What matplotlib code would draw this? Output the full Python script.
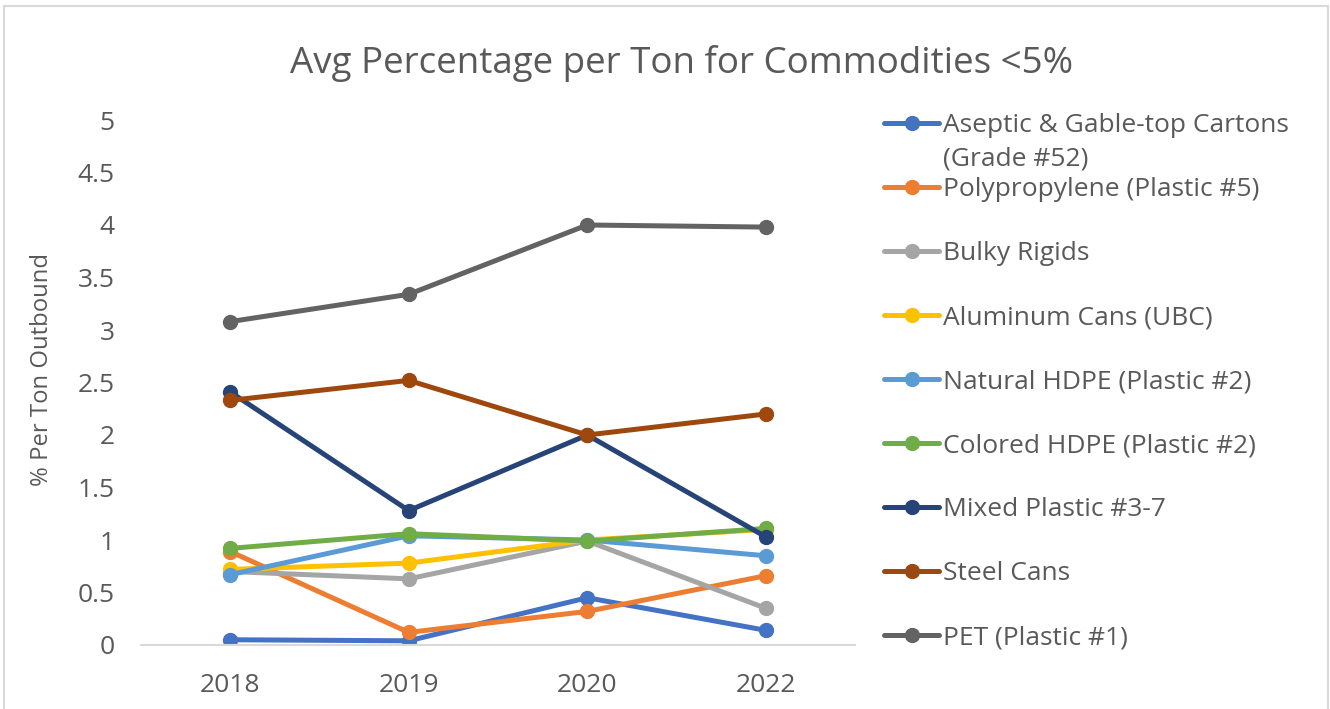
import matplotlib
matplotlib.use("Agg")
import matplotlib.pyplot as plt
from matplotlib.patches import Rectangle

plt.rcParams['font.family'] = ['Open Sans', 'DejaVu Sans']

years = ['2018', '2019', '2020', '2022']

series_names = [
    'Aseptic & Gable-top Cartons',
    'Polypropylene (Plastic #5)',
    'Bulky Rigids',
    'Aluminum Cans (UBC)',
    'Natural HDPE (Plastic #2)',
    'Colored HDPE (Plastic #2)',
    'Mixed Plastic #3-7',
    'Steel Cans',
    'PET (Plastic #1)',
]
aseptic = [0.05, 0.04, 0.45, 0.14]
polypropylene = [0.89, 0.12, 0.32, 0.66]
bulky = [0.70, 0.63, 0.99, 0.35]
aluminum = [0.72, 0.78, 1.00, 1.10]
natural_hdpe = [0.67, 1.04, 1.00, 0.85]
colored_hdpe = [0.92, 1.06, 0.99, 1.11]
mixed = [2.41, 1.28, 2.00, 1.03]
steel = [2.33, 2.52, 2.00, 2.20]
pet = [3.08, 3.34, 4.00, 3.98]

colors = ['#4472C4', '#ED7D31', '#A5A5A5', '#FFC000', '#5B9BD5',
          '#70AD47', '#264478', '#9E480E', '#636363']

all_values = [aseptic, polypropylene, bulky, aluminum, natural_hdpe,
              colored_hdpe, mixed, steel, pet]

txt = '#595959'
fs = 19
W, H = 1330, 709
fig = plt.figure(figsize=(W / 100, H / 100), dpi=100)
ax = fig.add_axes([141 / W, (H - 645) / H, 714 / W, 525 / H])

x = range(len(years))
for name, vals, c in zip(series_names, all_values, colors):
    ax.plot(x, vals, color=c, lw=3.6, marker='o', ms=10, label=name,
            solid_capstyle='round')

ax.set_xlim(-0.5, 3.5)
ax.set_ylim(0, 5)
ax.set_xticks(list(x))
ax.set_xticklabels(years)
yt = [i * 0.5 for i in range(11)]
ax.set_yticks(yt)
ax.set_yticklabels(['{:g}'.format(v) for v in yt])
ax.tick_params(axis='both', length=0, labelsize=fs, colors=txt)
ax.tick_params(axis='y', pad=19)
ax.tick_params(axis='x', pad=20)
for s in ['top', 'right', 'left']:
    ax.spines[s].set_visible(False)
ax.spines['bottom'].set_color('#d9d9d9')
ax.spines['bottom'].set_linewidth(1.5)
ax.set_ylabel('% Per Ton Outbound', fontsize=17.2, color=txt)
ax.yaxis.set_label_coords((54 - 141) / 714, 0.525)

fig.text(682 / W, 1 - 63 / H, 'Avg Percentage per Ton for Commodities <5%',
         ha='center', va='center', fontsize=26.5, color=txt)

leg = fig.legend(loc='upper left', bbox_to_anchor=(884 / W, 1 - 113 / H),
                 frameon=False, fontsize=fs, handlelength=2.1,
                 handletextpad=0.15, labelspacing=1.48, borderpad=0,
                 borderaxespad=0)
for t in leg.get_texts():
    t.set_color(txt)

# second line of the first legend label
fig.canvas.draw()
bb = leg.get_texts()[0].get_window_extent()
fig.text(bb.x0 / W, (bb.y0 - 33) / H, '(Grade #52)', fontsize=fs,
         color=txt, ha='left', va='bottom')

fig.patches.append(Rectangle((4 / W, -0.1), 1324 / W, 1.1 - 6 / H,
                             transform=fig.transFigure, fill=False,
                             edgecolor='#d9d9d9', lw=1.5))

fig.savefig('out.png', dpi=100)
